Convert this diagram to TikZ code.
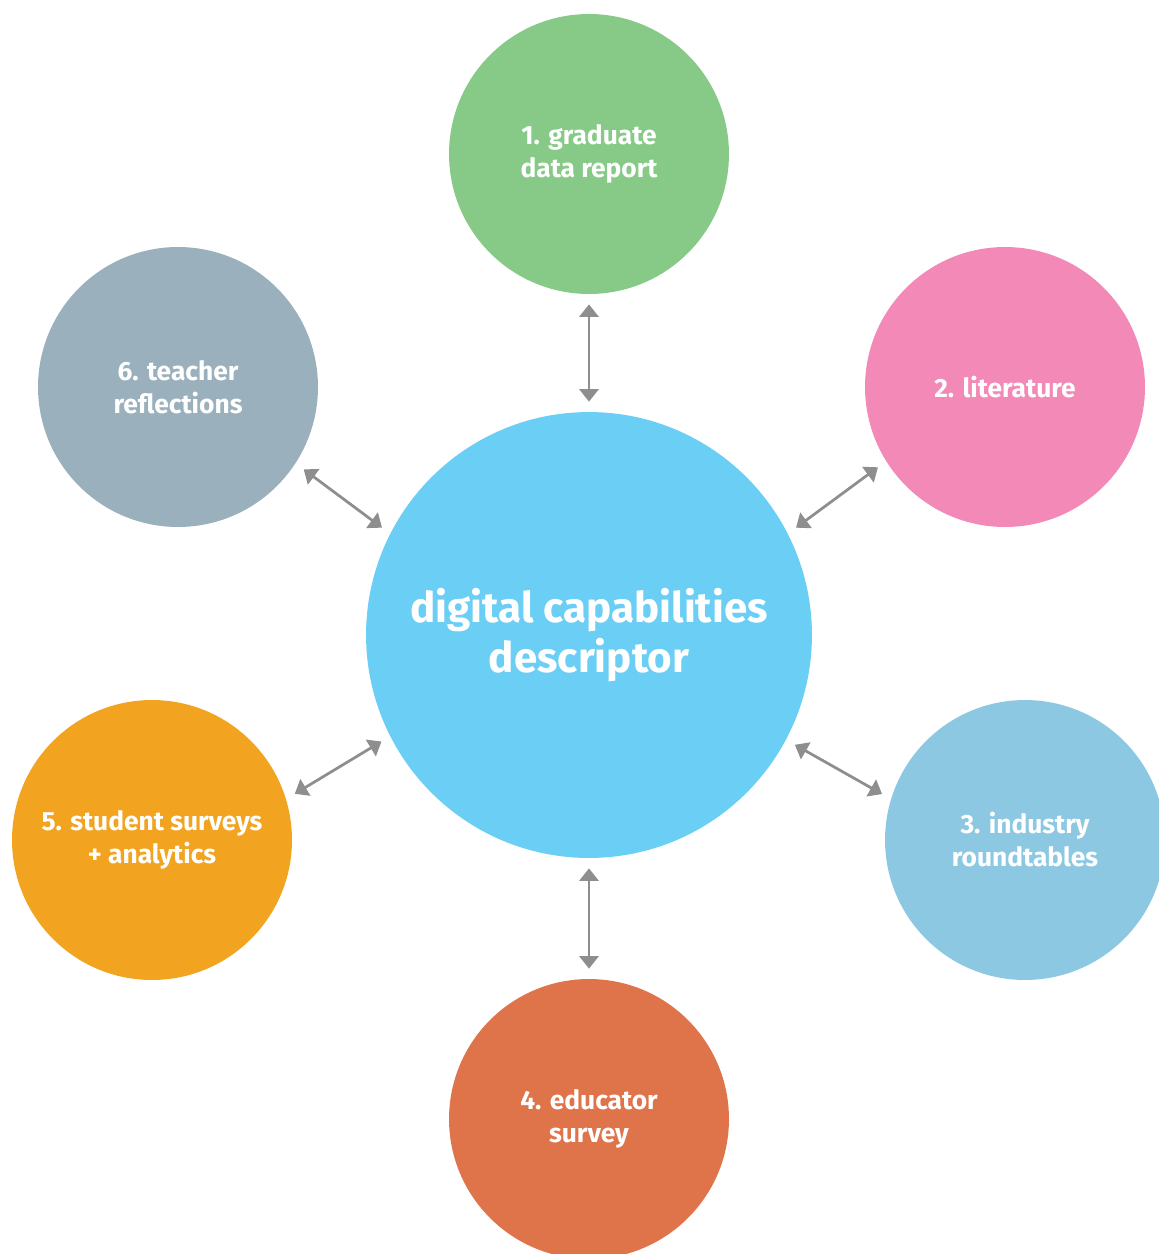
\documentclass[tikz,border=0pt]{standalone}
\usepackage{fontspec}
\setmainfont{Fira Sans}
\usetikzlibrary{arrows.meta}

\definecolor{hubblue}{HTML}{6BCEF5}
\definecolor{gradgreen}{HTML}{87C987}
\definecolor{litpink}{HTML}{F289B7}
\definecolor{indblue}{HTML}{8DC8E3}
\definecolor{edured}{HTML}{DF744A}
\definecolor{studorange}{HTML}{F2A31F}
\definecolor{teachgray}{HTML}{9AB1BD}
\definecolor{linkgray}{HTML}{8E8E8E}

\begin{document}
\begin{tikzpicture}[x=0.02cm,y=-0.02cm,
                    link/.style={{Triangle[length=0.25cm,width=0.38cm]}-{Triangle[length=0.25cm,width=0.38cm]},
                                 draw=linkgray,fill=linkgray,line width=0.055cm,shorten >=0.2cm,shorten <=0.2cm},
                    source/.style={circle,minimum size=5.6cm,inner sep=0pt,text=white,align=center,
                                   font=\fontsize{15}{18.8}\selectfont\bfseries},
                    hub/.style={circle,fill=hubblue,minimum size=8.92cm,inner sep=0pt,text=white,align=center,
                                font=\fontsize{24}{28.5}\selectfont\bfseries}]

\clip (0,0) rectangle (1159,1254);

\node[hub] (desc) at (589,635) {digital capabilities\\descriptor};

\node[source,fill=gradgreen] (grad) at (589,154) {1. graduate\\data report};
\node[source,fill=litpink] (lit) at (1005,387) {2. literature};
\node[source,fill=indblue] (ind) at (1025,840) {3. industry\\roundtables};
\node[source,fill=edured] (edu) at (589,1119) {4. educator\\survey};
\node[source,fill=studorange] (stud) at (152,840) {5. student surveys\\+ analytics};
\node[source,fill=teachgray] (teach) at (178,387) {6. teacher\\reflections};

\draw[link] (desc) -- (grad);
\draw[link] (desc.27) -- (lit.212);
\draw[link] (desc.-28) -- (ind.163);
\draw[link] (desc) -- (edu);
\draw[link] (desc.207) -- (stud.17);
\draw[link] (desc.153) -- (teach.-33);

\end{tikzpicture}
\end{document}
